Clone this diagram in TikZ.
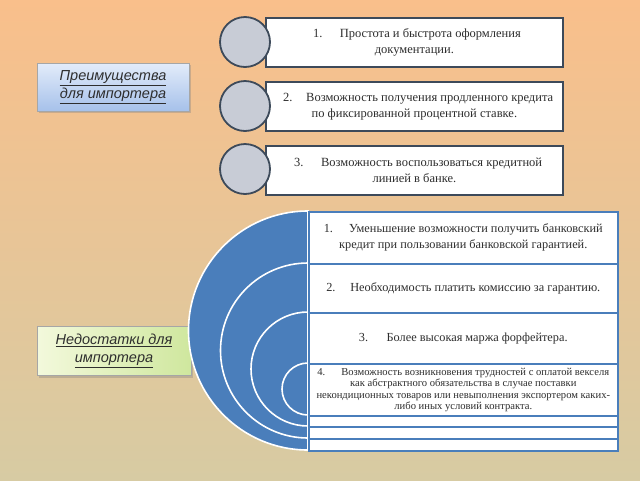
\documentclass[tikz,border=0pt]{standalone}
\usepackage{fontspec}
\setmainfont{Liberation Serif}
\newfontfamily\lsans{Liberation Sans}
\usetikzlibrary{shadows}
\definecolor{bgtop}{HTML}{F9BF8B}
\definecolor{bgmid}{HTML}{F1DFC1}
\definecolor{bgbot}{HTML}{D7CBA3}
\definecolor{arcblue}{HTML}{4A7EBB}
\definecolor{slate}{HTML}{3D4A5A}
\definecolor{circfill}{HTML}{C8CCD6}
\definecolor{txt}{HTML}{2E2E2E}
\definecolor{labblueA}{HTML}{E3ECFA}
\definecolor{labblueB}{HTML}{A6C1EA}
\definecolor{labgreenA}{HTML}{F3F9DC}
\definecolor{labgreenB}{HTML}{CFE79E}
\tikzset{
  topbox/.style={draw=slate, fill=white, line width=1.8pt, anchor=north west,
    minimum width=297pt, minimum height=49pt, align=center, text=txt,
    font=\fontsize{12.5}{16}\selectfont, inner sep=0pt},
  topcirc/.style={circle, draw=slate, fill=circfill, line width=1.8pt, minimum size=50pt, inner sep=0pt},
  rowbox/.style={draw=arcblue, fill=white, line width=1.6pt, anchor=north west,
    minimum width=309pt, align=center, text=txt, inner sep=0pt,
    font=\fontsize{12.3}{16}\selectfont},
  labbox/.style={draw=gray!70, line width=0.6pt, minimum width=152pt, minimum height=48pt,
    align=center, text=txt, font=\lsans\itshape\fontsize{14.5}{18}\selectfont,
    drop shadow={shadow xshift=2pt, shadow yshift=-2pt, opacity=0.35}},
  ring/.style={fill=arcblue, draw=white, line width=1.6pt}
}
\begin{document}
\begin{tikzpicture}[x=1pt,y=-1pt]
\useasboundingbox (0,0) rectangle (640,480);
\shade[top color=bgtop, middle color=bgmid, bottom color=bgbot] (0,0) rectangle (640,480);

% top list
\node[topbox] (b1) at (265,17) {\hspace*{0.4em}1.\hspace{1.4em}Простота и быстрота оформления\\документации.};
\node[topbox] (b2) at (265,81) {\hspace*{0.6em}2.\hspace{1.1em}Возможность получения продленного кредита\\по фиксированной процентной ставке.};
\node[topbox] (b3) at (265,145) {\hspace*{0.6em}3.\hspace{1.4em}Возможность воспользоваться кредитной\\линией в банке.};
\node[topcirc] (c1) at (245,42) {};
\node[topcirc] (c2) at (245,106) {};
\node[topcirc] (c3) at (245,169) {};

% labels
\node[labbox, top color=labblueA, bottom color=labblueB] (adv) at (113,87)
  {\underline{Преимущества}\\\underline{для импортера}};
\node[labbox, left color=labgreenA, right color=labgreenB, minimum width=154pt, minimum height=49pt] (dis) at (114,351)
  {\underline{Недостатки для}\\\underline{импортера}};

% nested half rings
\foreach \cy/\r in {330.5/119.5, 350.5/87.5, 369/57, 389/26}
  \filldraw[ring] (308,\cy) ++(0,-\r) arc[start angle=270, end angle=90, radius=\r] -- cycle;

% rows
\node[rowbox, minimum height=52pt] (r1) at (308,211)
  {1.\hspace{1.3em}Уменьшение возможности получить банковский\\кредит при пользовании банковской гарантией.};
\node[rowbox, minimum height=49pt] (r2) at (308,263)
  {2.\hspace{1.2em}Необходимость платить комиссию за гарантию.};
\node[rowbox, minimum height=51pt] (r3) at (308,312)
  {3.\hspace{1.5em}Более высокая маржа форфейтера.};
\node[rowbox, minimum height=52pt, font=\fontsize{10.6}{11.5}\selectfont] (r4) at (308,363)
  {4.\hspace{1.5em}Возможность возникновения трудностей с оплатой векселя\\как абстрактного обязательства в случае поставки\\некондиционных товаров или невыполнения экспортером каких-\\либо иных условий контракта.};
\node[rowbox, minimum height=11pt] (r5) at (308,415) {};
\node[rowbox, minimum height=12pt] (r6) at (308,426) {};
\node[rowbox, minimum height=12pt] (r7) at (308,438) {};
\end{tikzpicture}
\end{document}
